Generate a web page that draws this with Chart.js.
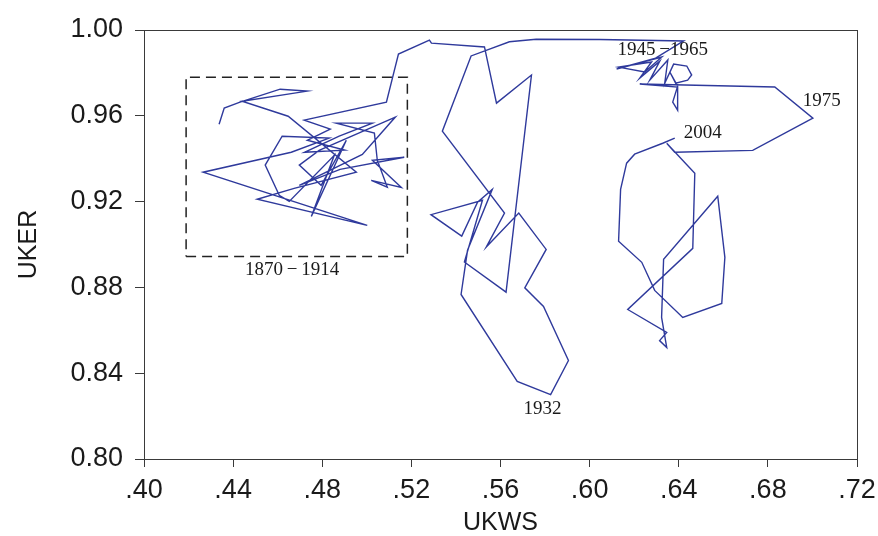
<!DOCTYPE html>
<html>
<head>
<meta charset="utf-8">
<script src="https://cdn.jsdelivr.net/npm/chart.js@4/dist/chart.umd.min.js"></script>
<style>
  html, body { margin: 0; padding: 0; background: #ffffff; }
  #wrap { width: 878px; height: 536px; }
</style>
</head>
<body>
<div id="wrap"><canvas id="c" width="878" height="536"></canvas></div>
<script>
// Wage share (UKWS) against employment rate (UKER), yearly path
const ukws = [
  0.4337,0.4360,0.4431,0.4611,0.4733,0.4440,0.4647,0.4953,0.4674,0.4508,
  0.5002,0.4265,0.4661,0.4831,0.4620,0.4544,0.4607,0.4652,0.4854,0.4751,
  0.4908,0.4795,0.4697,0.4786,0.5128,0.4980,0.4697,0.4880,0.5168,0.5025,
  0.5155,0.5020,0.5092,0.5047,0.5034,0.4863,0.5025,0.4876,0.4720,0.4900,
  0.4733,0.4836,0.4719,0.5088,
  0.5142,0.5281,0.5290,0.5528,0.5582,0.5739,0.5625,0.5438,0.5519,0.5288,
  0.5426,0.5497,0.5563,0.5452,0.5423,0.5675,0.5825,0.5905,0.5793,0.5709,
  0.5805,0.5682,0.5536,0.5618,0.5339,0.5468,0.5640,0.5760,0.6045,0.6422,
  0.6296,0.6121,0.6324,0.6247,0.6130,0.6278,0.6225,0.6315,0.6270,0.6351,
  0.6337,0.6377,0.6436,0.6458,0.6440,0.6386,0.6360,0.6395,0.6373,0.6395,
  0.6395,0.6225,
  0.6831,0.7002,0.6732,0.6382,0.6346,0.6472,0.6463,0.6171,0.6346,0.6314,
  0.6346,0.6323,0.6332,0.6575,0.6607,0.6593,0.6418,0.6292,0.6234,0.6130,
  0.6139,0.6166,0.6202,0.6328,0.6382
];
const uker = [
  0.9561,0.9636,0.9664,0.9724,0.9715,0.9668,0.9598,0.9337,0.9262,0.9211,
  0.9089,0.9337,0.9430,0.9496,0.9505,0.9370,0.9229,0.9201,0.9416,0.9131,
  0.9486,0.9276,0.9370,0.9439,0.9594,0.9420,0.9276,0.9350,0.9407,0.9393,
  0.9266,0.9299,0.9267,0.9393,0.9519,0.9566,0.9566,0.9505,0.9430,0.9440,
  0.9486,0.9538,0.9580,0.9664,
  0.9888,0.9953,0.9939,0.9921,0.9659,0.9790,0.8778,0.8918,0.9206,0.9139,
  0.9039,0.9197,0.9257,0.8973,0.8767,0.8362,0.8300,0.8459,0.8711,0.8798,
  0.8977,0.9147,0.8988,0.9147,0.9528,0.9879,0.9945,0.9957,0.9956,0.9949,
  0.9869,0.9818,0.9874,0.9804,0.9827,0.9851,0.9776,0.9855,0.9766,0.9860,
  0.9752,0.9841,0.9832,0.9790,0.9766,0.9752,0.9804,0.9738,0.9664,0.9626,
  0.9734,0.9748,
  0.9734,0.9589,0.9439,0.9430,0.9472,0.9332,0.8982,0.8697,0.8590,0.8552,
  0.8520,0.8660,0.8931,0.9225,0.8940,0.8725,0.8660,0.8786,0.8917,0.9015,
  0.9257,0.9379,0.9421,0.9472,0.9496
];

// Dashed box around 1870-1914 (data units)
const boxX = [0.4189, 0.5182];
const boxY = [0.8944, 0.9780];

// Period annotations (data units)
const noteText = ['1870\u2009\u2212\u20091914', '1932', '1945\u2009\u22121965', '1975', '2004'];
const noteX = [0.4665, 0.5789, 0.6328, 0.7042, 0.6508];
const noteY = [0.8879, 0.8235, 0.9907, 0.9668, 0.9519];

// Axis ticks
const xTickVals = [0.40, 0.44, 0.48, 0.52, 0.56, 0.60, 0.64, 0.68, 0.72];
const xTickLabels = ['.40', '.44', '.48', '.52', '.56', '.60', '.64', '.68', '.72'];
const yTickVals = [0.80, 0.84, 0.88, 0.92, 0.96, 1.00];
const yTickLabels = ['0.80', '0.84', '0.88', '0.92', '0.96', '1.00'];

const pathData = ukws.map((v, i) => ({ x: v, y: uker[i] }));
const boxData = [
  { x: boxX[0], y: boxY[0] }, { x: boxX[1], y: boxY[0] },
  { x: boxX[1], y: boxY[1] }, { x: boxX[0], y: boxY[1] },
  { x: boxX[0], y: boxY[0] }
];

const AXIS = '#3a3a3a';

const framePlugin = {
  id: 'frame',
  beforeDatasetsDraw(chart) {
    const { ctx, chartArea: a } = chart;
    ctx.save();
    ctx.strokeStyle = AXIS;
    ctx.lineWidth = 1;
    ctx.strokeRect(a.left + 0.5, a.top + 0.5, a.right - a.left, a.bottom - a.top);
    ctx.restore();
  }
};

const notesPlugin = {
  id: 'notes',
  afterDatasetsDraw(chart) {
    const { ctx, scales } = chart;
    ctx.save();
    ctx.fillStyle = '#1a1a1a';
    ctx.font = '19px "Liberation Serif", "DejaVu Serif", serif';
    ctx.textAlign = 'center';
    ctx.textBaseline = 'middle';
    noteText.forEach((t, i) => {
      ctx.fillText(t, scales.x.getPixelForValue(noteX[i]), scales.y.getPixelForValue(noteY[i]));
    });
    ctx.restore();
  }
};

new Chart(document.getElementById('c'), {
  type: 'scatter',
  data: {
    datasets: [
      {
        data: pathData,
        showLine: true,
        borderColor: '#2f3a9c',
        borderWidth: 1.4,
        pointRadius: 0,
        tension: 0,
        fill: false
      },
      {
        data: boxData,
        showLine: true,
        borderColor: '#222222',
        borderWidth: 1.5,
        borderDash: [10, 6],
        pointRadius: 0,
        tension: 0,
        fill: false
      }
    ]
  },
  options: {
    responsive: false,
    animation: false,
    devicePixelRatio: 1,
    layout: { padding: { top: 30, right: 21, left: 0, bottom: 0 } },
    plugins: { legend: { display: false }, tooltip: { enabled: false } },
    scales: {
      x: {
        type: 'linear',
        min: 0.40, max: 0.72,
        afterBuildTicks(axis) { axis.ticks = xTickVals.map(v => ({ value: v })); },
        afterFit(axis) { axis.height = 77; axis.paddingLeft = 0; axis.paddingRight = 0; },
        ticks: {
          callback: (v) => xTickLabels[xTickVals.findIndex(t => Math.abs(t - v) < 1e-6)],
          color: '#1a1a1a',
          font: { family: '"Liberation Sans", Arial, sans-serif', size: 27 },
          padding: 7,
          maxRotation: 0
        },
        grid: { drawOnChartArea: false, drawTicks: true, tickLength: 8, color: AXIS },
        border: { display: true, color: AXIS, width: 1 },
        title: {
          display: true, text: 'UKWS', color: '#1a1a1a',
          font: { family: '"Liberation Sans", Arial, sans-serif', size: 25, lineHeight: 1 },
          padding: { top: 0, bottom: 0 }
        }
      },
      y: {
        type: 'linear',
        min: 0.80, max: 1.00,
        afterBuildTicks(axis) { axis.ticks = yTickVals.map(v => ({ value: v })); },
        afterFit(axis) { axis.width = 144; axis.paddingTop = 0; axis.paddingBottom = 0; },
        ticks: {
          callback: (v) => yTickLabels[yTickVals.findIndex(t => Math.abs(t - v) < 1e-6)],
          color: '#1a1a1a',
          font: { family: '"Liberation Sans", Arial, sans-serif', size: 27 },
          padding: 12
        },
        grid: { drawOnChartArea: false, drawTicks: true, tickLength: 9, color: AXIS },
        border: { display: true, color: AXIS, width: 1 },
        title: {
          display: true, text: 'UKER', color: '#1a1a1a',
          font: { family: '"Liberation Sans", Arial, sans-serif', size: 25, lineHeight: 1 },
          padding: { top: 17, bottom: 0 }
        }
      }
    }
  },
  plugins: [framePlugin, notesPlugin]
});
</script>
</body>
</html>
